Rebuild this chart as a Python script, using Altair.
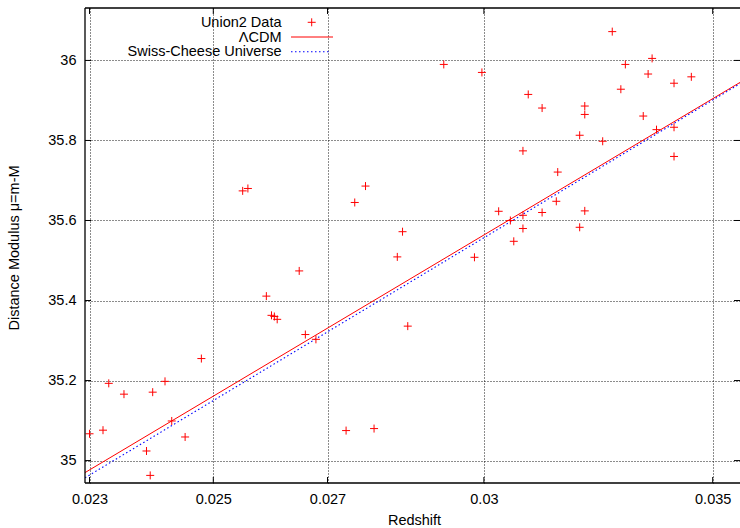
import altair as alt
import pandas as pd

# Union2 supernovae in the low-redshift window
redshift = [
    0.02300, 0.02321, 0.02330, 0.02354, 0.02400, 0.02420, 0.02480, 0.02431,
    0.02453, 0.02390, 0.02396, 0.02550, 0.02559, 0.02920, 0.02996, 0.02770,
    0.02750, 0.02840, 0.02591, 0.02600, 0.02605, 0.02610, 0.02649, 0.02660,
    0.02679, 0.02830, 0.02850, 0.02981, 0.02734, 0.02786, 0.03271, 0.03360,
    0.03300, 0.03351, 0.03290, 0.03410, 0.03450, 0.03091, 0.03120, 0.03211,
    0.03211, 0.03340, 0.03200, 0.03370, 0.03410, 0.03250, 0.03080, 0.03410,
    0.03153, 0.03150, 0.03120, 0.03030, 0.03080, 0.03211, 0.03054, 0.03080,
    0.03200, 0.03061,
]
distance_modulus = [
    35.067, 35.076, 35.193, 35.166, 35.171, 35.198, 35.255, 35.099,
    35.059, 35.024, 34.963, 35.674, 35.680, 35.990, 35.970, 35.686,
    35.645, 35.572, 35.411, 35.363, 35.360, 35.353, 35.474, 35.315,
    35.303, 35.509, 35.336, 35.508, 35.075, 35.080, 36.072, 36.005,
    35.990, 35.966, 35.928, 35.943, 35.959, 35.915, 35.881, 35.886,
    35.865, 35.861, 35.813, 35.827, 35.833, 35.798, 35.774, 35.760,
    35.721, 35.648, 35.620, 35.623, 35.613, 35.624, 35.600, 35.580,
    35.583, 35.548,
]

# model curves, sampled at the ends of the redshift window
model_z = [0.02293, 0.03565]
lcdm_mu = [34.970, 35.945]
swiss_cheese_mu = [34.957, 35.942]

x_ticks = [0.023, 0.025, 0.027, 0.03, 0.035]
y_ticks = [35.0, 35.2, 35.4, 35.6, 35.8, 36.0]
mu_range = [34.944, 36.131]

legend_labels = ["Union2 Data", "\u039bCDM", "Swiss-Cheese Universe"]

FONT = "Liberation Sans"
FS = 14.5
W, H = 655, 475
RED = "#ff0000"
BLUE = "#0000ff"

x_scale = alt.Scale(type="log", domain=model_z, nice=False)
y_scale = alt.Scale(domain=mu_range, nice=False, zero=False)

x_axis = alt.Axis(
    values=x_ticks, format=".3~f", grid=True, gridColor="#000000",
    gridDash=[1, 2], gridWidth=1, gridOpacity=0.9, ticks=False, domain=False,
    labelFont=FONT, labelFontSize=FS, labelColor="#000000", labelPadding=9,
    labelFlush=False, labelOverlap=False,
    title="Redshift", titleFont=FONT, titleFontSize=FS, titleFontWeight="normal",
    titleColor="#000000", titleX=329, titleY=37.7, titleBaseline="middle",
    titleAlign="center",
)
y_axis = alt.Axis(
    values=y_ticks, format="~g", grid=True, gridColor="#000000",
    gridDash=[1, 2], gridWidth=1, gridOpacity=0.9, ticks=False, domain=False,
    labelFont=FONT, labelFontSize=FS, labelColor="#000000", labelPadding=9,
    labelFlush=False, labelOverlap=False,
    title="Distance Modulus \u03bc=m-M", titleFont=FONT, titleFontSize=FS,
    titleFontWeight="normal", titleColor="#000000", titleAngle=270,
    titleX=-70.5, titleY=239.5, titleBaseline="middle", titleAlign="center",
)

X = alt.X("z:Q", scale=x_scale, axis=x_axis)
Y = alt.Y("mu:Q", scale=y_scale, axis=y_axis)

PLUS = "M-1,0L1,0M0,-1L0,1"

points_df = pd.DataFrame({"z": redshift, "mu": distance_modulus})
lcdm_df = pd.DataFrame({"z": model_z, "mu": lcdm_mu})
swiss_df = pd.DataFrame({"z": model_z, "mu": swiss_cheese_mu})
xt_df = pd.DataFrame({"z": x_ticks})
yt_df = pd.DataFrame({"mu": y_ticks})
one = pd.DataFrame({"k": [0]})

lcdm = alt.Chart(lcdm_df).mark_line(color=RED, strokeWidth=1, clip=True).encode(x=X, y=Y)
swiss = alt.Chart(swiss_df).mark_line(
    color=BLUE, strokeWidth=1.1, strokeDash=[1.5, 2.5], clip=True
).encode(x=X, y=Y)
points = alt.Chart(points_df).mark_point(
    shape=PLUS, size=64, filled=False, stroke=RED, strokeWidth=1, opacity=1, clip=True
).encode(x=X, y=Y)

# frame on left, top and bottom
frame_left = alt.Chart(one).mark_rule(color="#000000", strokeWidth=1.3).encode(
    x=alt.value(0), y=alt.value(0), y2=alt.value(H))
frame_top = alt.Chart(one).mark_rule(color="#000000", strokeWidth=1.3).encode(
    y=alt.value(0), x=alt.value(0), x2=alt.value(W))
frame_bottom = alt.Chart(one).mark_rule(color="#000000", strokeWidth=1.3).encode(
    y=alt.value(H), x=alt.value(0), x2=alt.value(W))

# inward tick marks, mirrored on the opposite side
tick_len = 6
xt_bottom = alt.Chart(xt_df).mark_rule(color="#000000", strokeWidth=1).encode(
    x=X, y=alt.value(H), y2=alt.value(H - tick_len))
xt_top = alt.Chart(xt_df).mark_rule(color="#000000", strokeWidth=1).encode(
    x=X, y=alt.value(0), y2=alt.value(tick_len))
yt_left = alt.Chart(yt_df).mark_rule(color="#000000", strokeWidth=1).encode(
    y=Y, x=alt.value(0), x2=alt.value(tick_len))
yt_right = alt.Chart(yt_df).mark_rule(color="#000000", strokeWidth=1).encode(
    y=Y, x=alt.value(W), x2=alt.value(W - tick_len))

# key in the upper left
key_x = 196.5
key_rows = [14.8, 29.5, 44.2]
key_texts = [
    alt.Chart(pd.DataFrame({"t": [lab]})).mark_text(
        font=FONT, fontSize=FS, align="right", baseline="middle", color="#000000"
    ).encode(text="t:N", x=alt.value(key_x), y=alt.value(ry))
    for lab, ry in zip(legend_labels, key_rows)
]
key_plus = alt.Chart(one).mark_point(
    shape=PLUS, size=64, filled=False, stroke=RED, strokeWidth=1, opacity=1
).encode(x=alt.value(226.7), y=alt.value(14.3))
key_red = alt.Chart(one).mark_rule(color=RED, strokeWidth=1).encode(
    x=alt.value(206), x2=alt.value(248), y=alt.value(29.0))
key_blue = alt.Chart(one).mark_rule(color=BLUE, strokeWidth=1.1, strokeDash=[1.5, 2.5]).encode(
    x=alt.value(206), x2=alt.value(246), y=alt.value(43.7))

chart = alt.layer(
    lcdm, swiss, points,
    frame_left, frame_top, frame_bottom,
    xt_bottom, xt_top, yt_left, yt_right,
    *key_texts, key_plus, key_red, key_blue,
).properties(
    width=W, height=H,
    padding={"left": 85, "top": 8, "right": 0, "bottom": 45},
    autosize=alt.AutoSizeParams(type="none"),
    background="#ffffff",
).configure_view(stroke=None)

chart.save("out.html", embed_options={"renderer": "svg", "actions": False})
